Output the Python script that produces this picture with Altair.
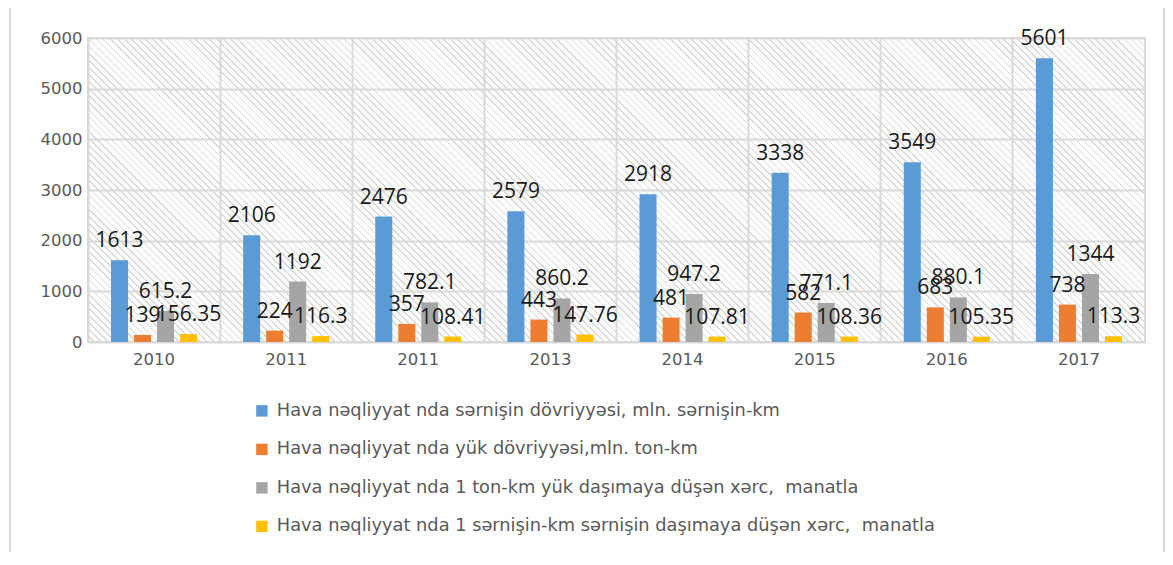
import math
import altair as alt
import pandas as pd

# ---- data ----
years = ["2010", "2011", "2011", "2013", "2014", "2015", "2016", "2017"]
series = [
    "\u00a0Hava nəqliyyat nda sərnişin dövriyyəsi, mln. sərnişin-km",
    "Hava nəqliyyat nda yük dövriyyəsi,mln. ton-km",
    "Hava nəqliyyat nda 1 ton-km yük daşımaya düşən xərc, \u00a0manatla",
    "Hava nəqliyyat nda 1 sərnişin-km sərnişin daşımaya düşən xərc, \u00a0manatla",
]
passenger_turnover = [1613, 2106, 2476, 2579, 2918, 3338, 3549, 5601]
cargo_turnover = [139, 224, 357, 443, 481, 582, 683, 738]
cost_ton_km = [615.2, 1192, 782.1, 860.2, 947.2, 771.1, 880.1, 1344]
cost_pass_km = [156.35, 116.3, 108.41, 147.76, 107.81, 108.36, 105.35, 113.3]
value_labels = [
    ["1613", "2106", "2476", "2579", "2918", "3338", "3549", "5601"],
    ["139", "224", "357", "443", "481", "582", "683", "738"],
    ["615.2", "1192", "782.1", "860.2", "947.2", "771.1", "880.1", "1344"],
    ["156.35", "116.3", "108.41", "147.76", "107.81", "108.36", "105.35", "113.3"],
]
colors = ["#5b9bd5", "#ed7d31", "#a5a5a5", "#ffc000"]
y_ticks = [0, 1000, 2000, 3000, 4000, 5000, 6000]

all_values = [passenger_turnover, cargo_turnover, cost_ton_km, cost_pass_km]
rows = []
for s_i, s in enumerate(series):
    for i, y in enumerate(years):
        rows.append({"idx": i, "series": s, "value": all_values[s_i][i],
                     "label": value_labels[s_i][i]})
df = pd.DataFrame(rows)

W, H = 1057, 304

# hatch background: striped linear gradient ("\" diagonal lines at 45deg),
# gaps transparent so that the grid lines show through
s = (W + H) / (W * W + H * H)
gx2 = s * W
gy2 = 1 - s * H
total = (W + H) / math.sqrt(2)
period = 5.0
n = int(total / period)
frac = 1.2 / period
stops = []
clear = "rgba(255,255,255,0)"
line = "#d9d9d9"
for k in range(n):
    a = k / n
    b = (k + 1 - frac) / n
    c = (k + 1) / n
    stops.append({"offset": a, "color": clear})
    stops.append({"offset": b, "color": clear})
    stops.append({"offset": b, "color": line})
    stops.append({"offset": c, "color": line})
hatch = {"gradient": "linear", "x1": 0, "y1": 1, "x2": gx2, "y2": gy2, "stops": stops}

label_expr = "[" + ",".join("'" + y + "'" for y in years) + "][datum.value]"

AX_FONT = "DejaVu Sans"
x_enc = alt.X("idx:O", axis=alt.Axis(
    title=None, labelExpr=label_expr, labelAngle=0, ticks=False, domain=False,
    grid=True, bandPosition=0, gridColor="#d9d9d9", gridWidth=2,
    labelFontSize=16.5, labelColor="#595959", labelFont=AX_FONT, labelPadding=9),
    scale=alt.Scale(paddingInner=0, paddingOuter=0))
xoff = alt.XOffset("series:N", sort=series,
                   scale=alt.Scale(paddingInner=0.26, paddingOuter=1.0))
y_enc = alt.Y("value:Q", scale=alt.Scale(domain=[0, 6000]), axis=alt.Axis(
    title=None, values=y_ticks, format="d", ticks=False, domain=False, grid=True,
    gridColor="#d9d9d9", gridWidth=2, labelFontSize=16.5, labelColor="#595959",
    labelFont=AX_FONT, labelPadding=6))

background = alt.Chart(pd.DataFrame({"bg": [0]})).mark_rect(
    fill=hatch, strokeWidth=0).encode(
    x=alt.value(0), x2=alt.value("width"), y=alt.value(0), y2=alt.value("height"))

frame = alt.Chart(pd.DataFrame({"bg": [0]})).mark_rect(
    fill="transparent", stroke="#d9d9d9", strokeWidth=2).encode(
    x=alt.value(-78), x2=alt.value(1076), y=alt.value(-50), y2=alt.value(560))

base = alt.Chart(df)
bars = base.mark_bar().encode(
    x=x_enc, xOffset=xoff, y=y_enc,
    color=alt.Color("series:N", sort=series,
                    scale=alt.Scale(domain=series, range=colors),
                    legend=alt.Legend(
                        title=None, orient="none", legendX=165, legendY=364,
                        padding=0, direction="vertical", symbolType="square",
                        symbolSize=130, symbolStrokeWidth=0, labelFontSize=17.8,
                        labelColor="#595959", labelFont=AX_FONT, rowPadding=19.5,
                        labelOffset=6, labelLimit=900)),
)
texts = base.mark_text(baseline="bottom", dy=-9, fontSize=21, font="Open Sans",
                       color="#1a1a1a").encode(
    x=x_enc, xOffset=xoff, y=y_enc, text="label:N")

chart = alt.layer(frame, background, bars, texts).properties(
    width=W, height=H,
    autosize=alt.AutoSizeParams(type="none"),
    padding={"left": 80, "top": 30, "right": 20, "bottom": 210},
).configure_view(stroke="#d9d9d9", strokeWidth=2)

chart.save("out.html", embed_options={"renderer": "svg", "actions": False})
